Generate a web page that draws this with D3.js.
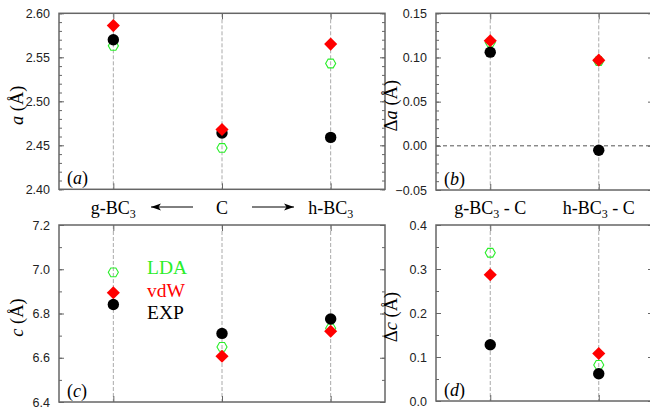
<!DOCTYPE html>
<html>
<head>
<meta charset="utf-8">
<script src="https://cdn.jsdelivr.net/npm/d3@7"></script>
<style>
  html, body { margin: 0; padding: 0; background: #fff; }
  svg { display: block; }
</style>
</head>
<body>
<svg id="chart" width="650" height="409"></svg>
<script>
// ---------------- data ----------------
const categoriesTop = ["g-BC3", "C", "h-BC3"];
const categoriesDiff = ["g-BC3 - C", "h-BC3 - C"];

const aLDA = [2.563, 2.447, 2.543];
const aVdW = [2.586, 2.468, 2.565];
const aEXP = [2.570, 2.464, 2.459];

const daLDA = [0.117, 0.096];
const daVdW = [0.119, 0.097];
const daEXP = [0.106, -0.005];

const cLDA = [6.986, 6.649, 6.733];
const cVdW = [6.894, 6.607, 6.720];
const cEXP = [6.841, 6.710, 6.775];

const dcLDA = [0.337, 0.082];
const dcVdW = [0.287, 0.108];
const dcEXP = [0.128, 0.062];

const seriesNames = ["LDA", "vdW", "EXP"];

const aTicks = [2.40, 2.45, 2.50, 2.55, 2.60];
const daTicks = [-0.05, 0.00, 0.05, 0.10, 0.15];
const cTicks = [6.4, 6.6, 6.8, 7.0, 7.2];
const dcTicks = [0.0, 0.1, 0.2, 0.3, 0.4];

// ---------------- styling ----------------
const colors = { LDA: "#2aee2a", vdW: "#ff0000", EXP: "#000000" };
const axisColor = "#666";
const serif = "'Liberation Serif', 'Times New Roman', serif";
const sans = "'Liberation Sans', Arial, sans-serif";

const svg = d3.select("#chart");

const hexagon = {
  draw(ctx, size) {
    const r = Math.sqrt(size / (1.5 * Math.sqrt(3)));
    for (let i = 0; i < 6; i++) {
      const ang = Math.PI / 3 * i;
      const x = r * Math.cos(ang), y = r * Math.sin(ang);
      if (i === 0) ctx.moveTo(x, y); else ctx.lineTo(x, y);
    }
    ctx.closePath();
  }
};

const panels = [
  { id: "a", x0: 59, x1: 385, y0: 13.3, y1: 189.3, cats: categoriesTop,
    domain: [2.40, 2.60], ticks: aTicks, minor: 0.01, fmt: ".2f",
    data: { LDA: aLDA, vdW: aVdW, EXP: aEXP }, title: ["", "a"], titleX: 17 },
  { id: "b", x0: 436, x1: 653, y0: 13.3, y1: 190, cats: categoriesDiff,
    domain: [-0.05, 0.15], ticks: daTicks, minor: 0.01, fmt: ".2f",
    data: { LDA: daLDA, vdW: daVdW, EXP: daEXP }, title: ["Δ", "a"], titleX: 391, zero: true },
  { id: "c", x0: 59, x1: 385, y0: 225, y1: 402, cats: categoriesTop,
    domain: [6.4, 7.2], ticks: cTicks, minor: 0.1, fmt: ".1f",
    data: { LDA: cLDA, vdW: cVdW, EXP: cEXP }, title: ["", "c"], titleX: 17 },
  { id: "d", x0: 436, x1: 653, y0: 225, y1: 401, cats: categoriesDiff,
    domain: [0.0, 0.4], ticks: dcTicks, minor: 0.05, fmt: ".1f",
    data: { LDA: dcLDA, vdW: dcVdW, EXP: dcEXP }, title: ["Δ", "c"], titleX: 391 }
];

panels.forEach(p => {
  const x = d3.scalePoint().domain(p.cats).range([p.x0, p.x1]).padding(0.5);
  const y = d3.scaleLinear().domain(p.domain).range([p.y1, p.y0]);
  const g = svg.append("g");

  // category dashed guides
  g.selectAll("line.guide").data(p.cats).join("line")
    .attr("x1", d => x(d)).attr("x2", d => x(d))
    .attr("y1", p.y0).attr("y2", p.y1)
    .attr("stroke", "#aaa").attr("stroke-width", 1).attr("stroke-dasharray", "4,2");

  if (p.zero) {
    g.append("line").attr("x1", p.x0).attr("x2", p.x1)
      .attr("y1", y(0)).attr("y2", y(0))
      .attr("stroke", "#555").attr("stroke-width", 1).attr("stroke-dasharray", "4,3");
  }

  // minor ticks
  const minorVals = d3.range(p.domain[0], p.domain[1] + p.minor / 2, p.minor);
  const axL = d3.axisLeft(y).tickValues(minorVals).tickSize(-3).tickFormat("");
  const axR = d3.axisRight(y).tickValues(minorVals).tickSize(-3).tickFormat("");
  g.append("g").attr("transform", `translate(${p.x0},0)`).call(axL);
  g.append("g").attr("transform", `translate(${p.x1},0)`).call(axR);

  // major ticks
  const majL = d3.axisLeft(y).tickValues(p.ticks).tickSize(-5).tickPadding(9)
    .tickFormat(d3.format(p.fmt));
  const majR = d3.axisRight(y).tickValues(p.ticks).tickSize(-5).tickFormat("");
  const gl = g.append("g").attr("transform", `translate(${p.x0},0)`).call(majL);
  g.append("g").attr("transform", `translate(${p.x1},0)`).call(majR);
  gl.selectAll("text").attr("font-family", sans).attr("font-size", 12.5).attr("fill", "#222");

  // category ticks on top and bottom
  const axT = d3.axisTop(x).tickSize(-6).tickFormat("");
  const axB = d3.axisBottom(x).tickSize(-6).tickFormat("");
  g.append("g").attr("transform", `translate(0,${p.y0})`).call(axT);
  g.append("g").attr("transform", `translate(0,${p.y1})`).call(axB);

  g.selectAll(".domain").attr("stroke", "none");
  g.selectAll(".tick line").attr("stroke", axisColor).attr("stroke-width", 1);

  // frame
  g.append("rect").attr("x", p.x0).attr("y", p.y0)
    .attr("width", p.x1 - p.x0).attr("height", p.y1 - p.y0)
    .attr("fill", "none").attr("stroke", axisColor).attr("stroke-width", 1.5);

  // markers: LDA, EXP, vdW order
  const drawOrder = ["LDA", "EXP", "vdW"];
  drawOrder.forEach(s => {
    const vals = p.data[s];
    const sel = g.selectAll("path.m-" + s).data(vals).join("path")
      .attr("class", "m-" + s);
    if (s === "LDA") {
      sel.attr("d", d3.symbol().type(hexagon).size(66))
        .attr("transform", (d, i) => `translate(${x(p.cats[i])},${y(d)})`)
        .attr("fill", "none").attr("stroke", colors.LDA).attr("stroke-width", 1.1);
    } else if (s === "vdW") {
      sel.attr("d", d3.symbol().type(d3.symbolSquare).size(86))
        .attr("transform", (d, i) => `translate(${x(p.cats[i])},${y(d)}) rotate(45)`)
        .attr("fill", colors.vdW);
    } else {
      sel.attr("d", d3.symbol().type(d3.symbolCircle).size(Math.PI * 5.7 * 5.7))
        .attr("transform", (d, i) => `translate(${x(p.cats[i])},${y(d)})`)
        .attr("fill", colors.EXP);
    }
  });

  // panel label
  const pl = g.append("text").attr("x", p.x0 + 8).attr("y", p.y1 - 5)
    .attr("font-family", serif).attr("font-size", 18).attr("fill", "#000");
  pl.append("tspan").text("(");
  pl.append("tspan").attr("font-style", "italic").text(p.id);
  pl.append("tspan").text(")");

  // y title
  const cy = (p.y0 + p.y1) / 2 + 4;
  const t = svg.append("text")
    .attr("transform", `translate(${p.titleX + 6},${cy}) rotate(-90)`)
    .attr("text-anchor", "middle")
    .attr("font-family", serif).attr("font-size", 18.5).attr("fill", "#000");
  if (p.title[0]) t.append("tspan").text(p.title[0]);
  t.append("tspan").attr("font-style", "italic").text(p.title[1]);
  t.append("tspan").text(" (Å)");

  p.xs = x;
});

// ---------------- category labels ----------------
function catLabel(xPos, yPos, name) {
  const t = svg.append("text").attr("x", xPos).attr("y", yPos)
    .attr("text-anchor", "middle").attr("font-family", serif)
    .attr("font-size", 18).attr("fill", "#000");
  const parts = name.split("3");
  if (parts.length > 1) {
    t.append("tspan").text(parts[0]);
    t.append("tspan").attr("font-size", 12).attr("dy", 4).text("3");
    t.append("tspan").attr("dy", -4).text(parts[1]);
  } else {
    t.text(name);
  }
}
const xa = panels[0].xs, xb = panels[1].xs;
const labY = 214;
categoriesTop.forEach(c => catLabel(xa(c), labY, c));
categoriesDiff.forEach(c => catLabel(xb(c), labY, c));

// arrows
function arrow(xFrom, xTo, yy) {
  svg.append("line").attr("x1", xFrom).attr("x2", xTo).attr("y1", yy).attr("y2", yy)
    .attr("stroke", "#000").attr("stroke-width", 1);
  const dir = Math.sign(xTo - xFrom);
  const p = d3.path();
  p.moveTo(xTo, yy);
  p.lineTo(xTo - dir * 10, yy - 3.5);
  p.lineTo(xTo - dir * 7.5, yy);
  p.lineTo(xTo - dir * 10, yy + 3.5);
  p.closePath();
  svg.append("path").attr("d", p.toString()).attr("fill", "#000");
}
const arrowY = 207;
arrow(193, 151, arrowY);
arrow(252, 294, arrowY);

// ---------------- legend ----------------
const legendY = [274, 297, 319];
seriesNames.forEach((s, i) => {
  svg.append("text").attr("x", 147).attr("y", legendY[i])
    .attr("font-family", serif).attr("font-size", 19.5)
    .attr("fill", colors[s]).text(s);
});
</script>
</body>
</html>
